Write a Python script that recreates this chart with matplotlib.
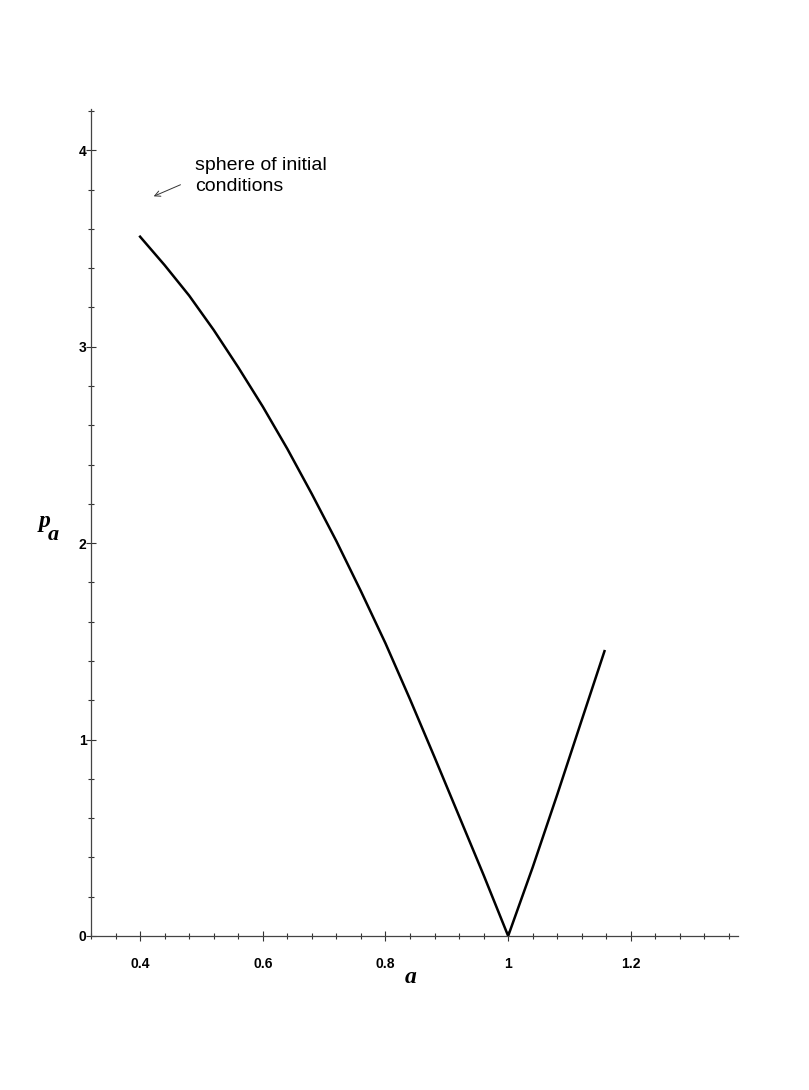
import matplotlib.pyplot as plt
from matplotlib.ticker import MultipleLocator, FixedLocator

# curve: p_a against a
a_left = [0.40, 0.44, 0.48, 0.52, 0.56, 0.60, 0.64, 0.68, 0.72, 0.76,
          0.80, 0.84, 0.88, 0.92, 0.96, 1.00]
p_left = [3.56, 3.415, 3.26, 3.085, 2.895, 2.695, 2.48, 2.25, 2.01, 1.755,
          1.49, 1.205, 0.91, 0.61, 0.31, 0.00]
a_right = [1.00, 1.04, 1.08, 1.12, 1.157]
p_right = [0.00, 0.35, 0.72, 1.10, 1.45]

x_major = [0.4, 0.6, 0.8, 1.0, 1.2]
x_labels = ["0.4", "0.6", "0.8", "1", "1.2"]
y_major = [0, 1, 2, 3, 4]

fig = plt.figure(figsize=(8.09, 10.9), dpi=100)
ax = fig.add_axes([0.1125, 0.1413, 0.80, 0.7587])

ax.plot(a_left + a_right[1:], p_left + p_right[1:], color="black", lw=1.8,
        solid_joinstyle="round")

ax.set_xlim(0.32, 1.375)
ax.set_ylim(0, 4.21)

for s in ["top", "right"]:
    ax.spines[s].set_visible(False)
for s in ["left", "bottom"]:
    ax.spines[s].set_color("#444444")
    ax.spines[s].set_linewidth(0.9)

ax.xaxis.set_major_locator(FixedLocator(x_major))
ax.set_xticklabels(x_labels)
ax.xaxis.set_minor_locator(MultipleLocator(0.04))
ax.yaxis.set_major_locator(FixedLocator(y_major))
ax.yaxis.set_minor_locator(MultipleLocator(0.2))

ax.tick_params(which="both", direction="inout", color="#333333", width=0.8)
ax.tick_params(which="major", length=6.5)
ax.tick_params(which="minor", length=4.5)
ax.tick_params(axis="x", which="major", pad=12)
ax.tick_params(axis="y", which="major", pad=0)
for lab in ax.get_xticklabels() + ax.get_yticklabels():
    lab.set_fontfamily("Liberation Sans")
    lab.set_fontweight("bold")
    lab.set_fontsize(10)

# axis labels
fig.text(0.507, 0.103, "a", fontfamily="Liberation Serif", fontstyle="italic",
         fontweight="bold", fontsize=17, ha="center", va="center")
fig.text(0.055, 0.522, "p", fontfamily="Liberation Serif", fontstyle="italic",
         fontweight="bold", fontsize=17, ha="center", va="center")
fig.text(0.066, 0.509, "a", fontfamily="Liberation Serif", fontstyle="italic",
         fontweight="bold", fontsize=16, ha="center", va="center")

# annotation
ax.text(0.49, 3.87, "sphere of initial\nconditions", fontfamily="Liberation Sans",
        fontsize=14, ha="left", va="center", linespacing=1.3)
ax.annotate("", xy=(0.418, 3.76), xytext=(0.47, 3.83),
            arrowprops=dict(arrowstyle="->", color="#333333", lw=0.7))

fig.savefig("out.png", dpi=100, facecolor="white")
